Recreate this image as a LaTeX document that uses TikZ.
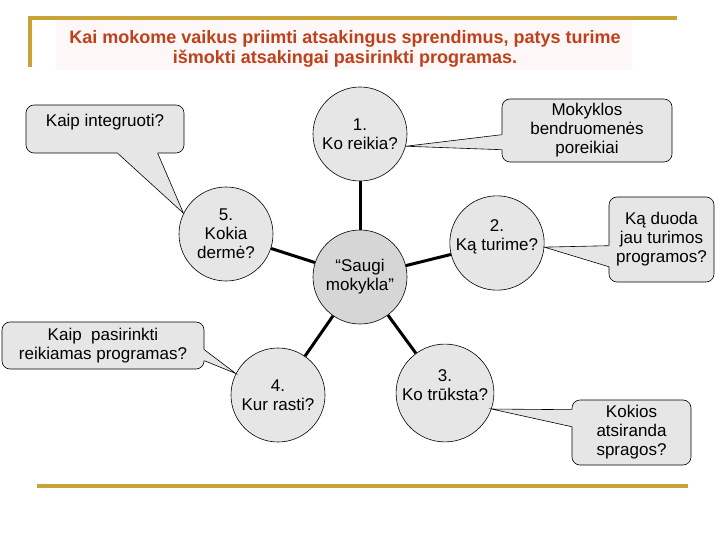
\documentclass[tikz,border=0pt]{standalone}
\usepackage{fontspec}
\setmainfont{Liberation Sans}
\usepackage{tikz}
\usetikzlibrary{calc}

\definecolor{gold}{RGB}{200,164,56}
\definecolor{rust}{RGB}{190,65,25}
\definecolor{bubblegray}{RGB}{230,230,230}
\definecolor{hubgray}{RGB}{214,214,214}
\definecolor{titlebg}{RGB}{253,247,247}

% pointer of a callout: base point 1, base point 2, tip, shift into the box
\newcommand{\calloutptr}[4]{%
  \fill[bubblegray] ($#1+#4$) -- #1 -- #3 -- #2 -- ($#2+#4$) -- cycle;
  \draw[line width=0.6pt] #1 -- #3 -- #2;}

\begin{document}
\begin{tikzpicture}[x=1pt, y=-1pt,
    topic/.style={circle, draw, line width=0.6pt, fill=bubblegray, minimum size=94pt,
      inner sep=0pt, align=center, font=\fontsize{17}{19}\selectfont},
    hubnode/.style={topic, fill=hubgray},
    bubble/.style={draw, line width=0.6pt, fill=bubblegray, rounded corners=8pt,
      inner sep=0pt, align=center, font=\fontsize{17}{19}\selectfont},
    spoke/.style={line width=3pt},
    rule/.style={draw=gold, line width=3.5pt}
  ]
    \useasboundingbox (0,0) rectangle (720,540);

    % title
    \fill[titlebg] (56,20) rectangle (632,70);
    \draw[rule] (30,67) -- (30,18) -- (677,18);
    \draw[rule] (37,486) -- (688,486);
    \node[font=\fontsize{18}{20}\selectfont\bfseries, text=rust, align=center] (title) at (345,49)
      {Kai mokome vaikus priimti atsakingus sprendimus, patys turime\\
       išmokti atsakingai pasirinkti programas.};

    % circles
    \node[hubnode] (hub) at (360,277) {“Saugi\\mokykla”};
    \node[topic] (n1) at (360,134) {1.\\Ko reikia?};
    \node[topic, text depth=16pt] (n2) at (497,243) {2.\\Ką turime?};
    \node[topic, text depth=16pt] (n3) at (445,393) {3.\\Ko trūksta?};
    \node[topic] (n4) at (278,395) {4.\\Kur rasti?};
    \node[topic] (n5) at (226,234) {5.\\Kokia\\dermė?};

    \foreach \n in {n1,n2,n3,n4,n5}
      \draw[spoke] (hub) -- (\n);

    % callouts
    \node[bubble, minimum width=158pt, text height=22pt, text depth=26pt] (c1) at (105,129) {Kaip integruoti?};
    \node[bubble, minimum width=170pt, minimum height=63pt] (c2) at (587,130.5) {Mokyklos\\bendruomenės\\poreikiai};
    \node[bubble, minimum width=105pt, minimum height=85pt] (c3) at (661.5,239.5) {Ką duoda\\jau turimos\\programos?};
    \node[bubble, minimum width=202pt, minimum height=47pt] (c4) at (103,345.5) {Kaip~~pasirinkti\\reikiamas programas?};
    \node[bubble, minimum width=119pt, minimum height=65pt] (c5) at (631.5,432.5) {Kokios\\atsiranda\\spragos?};

    \calloutptr{($(c1.south west)+(92,0)$)}{($(c1.south west)+(132,0)$)}{(n5.154)}{(0,-1.5)}
    \calloutptr{($(c2.north west)+(0,36)$)}{($(c2.north west)+(0,51)$)}{(n1.-15)}{(1.5,0)}
    \calloutptr{($(c3.north west)+(0,49)$)}{($(c3.north west)+(0,70)$)}{(n2.-5)}{(1.5,0)}
    \calloutptr{($(c4.north east)+(0,28)$)}{($(c4.north east)+(0,39)$)}{(n4.153)}{(-1.5,0)}
    \calloutptr{($(c5.north west)+(0,10)$)}{($(c5.north west)+(0,27)$)}{(n3.-19)}{(1.5,0)}
\end{tikzpicture}
\end{document}
